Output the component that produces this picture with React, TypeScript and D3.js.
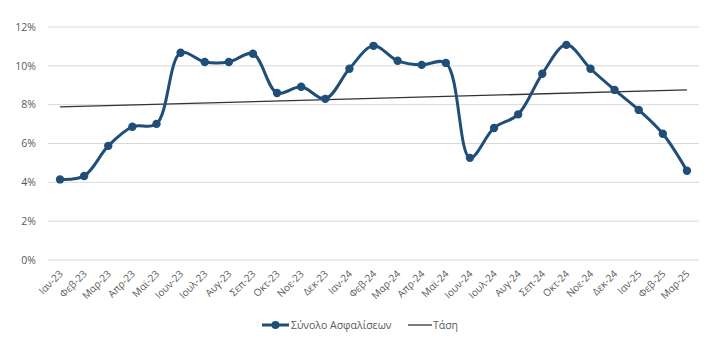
// @ts-nocheck
import * as d3 from "d3";
import { useMemo } from "react";

const months = [
    "Ιαν-23", "Φεβ-23", "Μαρ-23", "Απρ-23", "Μαϊ-23", "Ιουν-23", "Ιουλ-23", "Αυγ-23", "Σεπ-23",
    "Οκτ-23", "Νοε-23", "Δεκ-23", "Ιαν-24", "Φεβ-24", "Μαρ-24", "Απρ-24", "Μαϊ-24", "Ιουν-24",
    "Ιουλ-24", "Αυγ-24", "Σεπ-24", "Οκτ-24", "Νοε-24", "Δεκ-24", "Ιαν-25", "Φεβ-25", "Μαρ-25",
];

// Σύνολο Ασφαλίσεων, % change
const totalValues = [
    4.15, 4.33, 5.88, 6.86, 7.01, 10.67, 10.2, 10.2, 10.62,
    8.6, 8.92, 8.3, 9.85, 11.03, 10.26, 10.05, 10.15, 5.26,
    6.8, 7.5, 9.59, 11.08, 9.85, 8.76, 7.73, 6.5, 4.6,
];

const yTicks = [0, 2, 4, 6, 8, 10, 12];

const seriesName = "Σύνολο Ασφαλίσεων";
const trendName = "Τάση";

const W = 723;
const H = 354;
const margin = { top: 27, right: 24, bottom: 94, left: 48 };
const FONT = "'Open Sans', 'Noto Sans', sans-serif";
const BLUE = "#1f4e79";
const GREY = "#595959";

const App = () => {
    const x = useMemo(
        () =>
            d3
                .scaleBand()
                .domain(months)
                .range([margin.left, W - margin.right]),
        []
    );
    const y = useMemo(
        () =>
            d3
                .scaleLinear()
                .domain([0, 12])
                .range([H - margin.bottom, margin.top]),
        []
    );

    const cx = (m) => x(m) + x.bandwidth() / 2;

    // least squares trend line like excel
    const trend = useMemo(() => {
        const n = totalValues.length;
        const xs = totalValues.map((_, i) => i + 1);
        const mx = d3.mean(xs);
        const my = d3.mean(totalValues);
        const slope =
            d3.sum(xs, (xi, i) => (xi - mx) * (totalValues[i] - my)) /
            d3.sum(xs, (xi) => (xi - mx) ** 2);
        const icpt = my - slope * mx;
        return [icpt + slope * 1, icpt + slope * n];
    }, []);

    const line = d3
        .line()
        .x((d, i) => cx(months[i]))
        .y((d) => y(d))
        .curve(d3.curveCatmullRom.alpha(0.5));

    const axisY = y(0);

    return (
        <div style={{ position: "fixed", left: 0, top: 0 }}>
            <svg width={W} height={H} style={{ display: "block", background: "#fff" }}>
                {/* grid */}
                {yTicks.map((t) => (
                    <g key={`grid-${t}`}>
                        <line
                            x1={margin.left}
                            x2={W - margin.right}
                            y1={y(t)}
                            y2={y(t)}
                            stroke="#d9d9d9"
                            strokeWidth={1}
                        />
                        <text
                            x={margin.left - 12}
                            y={y(t)}
                            dy="0.35em"
                            textAnchor="end"
                            fontFamily={FONT}
                            fontSize={10.5}
                            fill={GREY}
                        >
                            {t}%
                        </text>
                    </g>
                ))}

                {/* x labels */}
                {months.map((m) => (
                    <text
                        key={`lbl-${m}`}
                        transform={`translate(${cx(m) + 1},${axisY + 12}) rotate(-45)`}
                        textAnchor="end"
                        dy="0.35em"
                        fontFamily={FONT}
                        fontSize={10}
                        fill={GREY}
                    >
                        {m}
                    </text>
                ))}

                {/* trend */}
                <line
                    x1={cx(months[0])}
                    x2={cx(months[months.length - 1])}
                    y1={y(trend[0])}
                    y2={y(trend[1])}
                    stroke="#333"
                    strokeWidth={1.3}
                />

                {/* series */}
                <path
                    d={line(totalValues)}
                    fill="none"
                    stroke={BLUE}
                    strokeWidth={3}
                    strokeLinejoin="round"
                />
                {totalValues.map((v, i) => (
                    <circle
                        key={`pt-${i}`}
                        cx={cx(months[i])}
                        cy={y(v)}
                        r={4.2}
                        fill={BLUE}
                    />
                ))}

                {/* legend */}
                <g transform="translate(0,325)">
                    <line x1={262} x2={289} y1={0} y2={0} stroke={BLUE} strokeWidth={3} />
                    <circle cx={275.5} cy={0} r={4} fill={BLUE} />
                    <text
                        x={291}
                        dy="0.35em"
                        fontFamily={FONT}
                        fontSize={10.5}
                        fill={GREY}
                    >
                        {seriesName}
                    </text>
                    <line x1={408} x2={432} y1={0} y2={0} stroke="#333" strokeWidth={1.3} />
                    <text
                        x={433}
                        dy="0.35em"
                        fontFamily={FONT}
                        fontSize={10.5}
                        fill={GREY}
                    >
                        {trendName}
                    </text>
                </g>
            </svg>
        </div>
    );
};

export default App;
